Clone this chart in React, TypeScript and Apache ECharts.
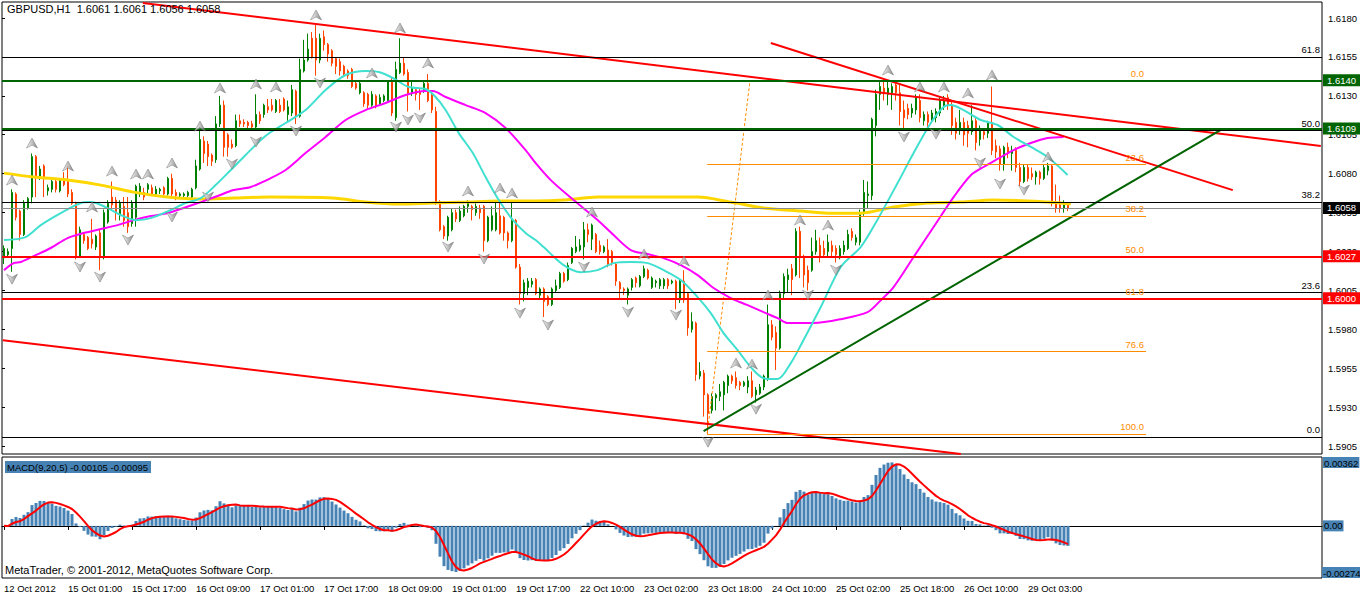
import { useEffect, useRef } from 'react';
import * as echarts from 'echarts';

const FONT = '"Liberation Sans", Arial, sans-serif';
const SLOTS = 330; // bar slots across the window (incl. right shift space)

const chartTitle = 'GBPUSD,H1  1.6061 1.6061 1.6056 1.6058';
const macdTitle = 'MACD(9,20,5) -0.00105 -0.00095';
const copyright = 'MetaTrader, \u00a9 2001-2012, MetaQuotes Software Corp.';

const tickEvery = 16;
const tickLabels = [
  '12 Oct 2012', '15 Oct 01:00', '15 Oct 17:00', '16 Oct 09:00', '17 Oct 01:00',
  '17 Oct 17:00', '18 Oct 09:00', '19 Oct 01:00', '19 Oct 17:00', '22 Oct 10:00',
  '23 Oct 02:00', '23 Oct 18:00', '24 Oct 10:00', '25 Oct 02:00', '25 Oct 18:00',
  '26 Oct 10:00', '29 Oct 03:00',
];

// [open, high, low, close]
const barsA = [
  [1.6026,1.6034,1.6022,1.6032],[1.6028,1.6032,1.6026,1.6030],[1.6032,1.6070,1.6017,1.6068],[1.6067,1.6068,1.6050,1.6052],
  [1.6056,1.6057,1.6037,1.6041],[1.6041,1.6063,1.6040,1.6061],[1.6058,1.6065,1.6057,1.6064],[1.6065,1.6093,1.6061,1.6091],
  [1.6091,1.6092,1.6065,1.6078],[1.6078,1.6085,1.6076,1.6083],[1.6085,1.6086,1.6065,1.6077],[1.6069,1.6073,1.6066,1.6071],
  [1.6070,1.6076,1.6068,1.6075],[1.6075,1.6076,1.6068,1.6070],[1.6069,1.6077,1.6068,1.6076],[1.6076,1.6081,1.6072,1.6073],
  [1.6075,1.6085,1.6065,1.6067],[1.6068,1.6070,1.6060,1.6061],[1.6061,1.6062,1.6025,1.6027],[1.6027,1.6046,1.6026,1.6044],
  [1.6041,1.6042,1.6035,1.6037],[1.6039,1.6040,1.6031,1.6032],[1.6038,1.6051,1.6032,1.6035],[1.6033,1.6041,1.6031,1.6040],
  [1.6042,1.6044,1.6018,1.6027],[1.6027,1.6057,1.6025,1.6055],[1.6049,1.6063,1.6048,1.6061],[1.6065,1.6075,1.6057,1.6060],
  [1.6063,1.6065,1.6050,1.6055],[1.6053,1.6063,1.6050,1.6061],[1.6059,1.6065,1.6046,1.6050],[1.6055,1.6065,1.6042,1.6046],
  [1.6048,1.6063,1.6046,1.6061],[1.6052,1.6073,1.6046,1.6072],[1.6067,1.6074,1.6065,1.6072],[1.6068,1.6071,1.6063,1.6065],
  [1.6070,1.6074,1.6067,1.6073],[1.6071,1.6073,1.6066,1.6067],[1.6067,1.6072,1.6066,1.6070],[1.6069,1.6071,1.6067,1.6070],
  [1.6071,1.6072,1.6066,1.6067],[1.6067,1.6078,1.6066,1.6077],[1.6077,1.6080,1.6065,1.6067],[1.6068,1.6070,1.6063,1.6066],
  [1.6066,1.6068,1.6064,1.6067],[1.6066,1.6068,1.6065,1.6067],[1.6066,1.6069,1.6065,1.6068],[1.6065,1.6071,1.6064,1.6070],
  [1.6071,1.6089,1.6070,1.6085],[1.6083,1.6110,1.6082,1.6102],[1.6101,1.6104,1.6087,1.6093],[1.6099,1.6101,1.6085,1.6091],
  [1.6092,1.6093,1.6085,1.6088],[1.6089,1.6117,1.6087,1.6112],[1.6112,1.6130,1.6110,1.6124],[1.6124,1.6127,1.6091,1.6097],
  [1.6105,1.6106,1.6091,1.6097],[1.6099,1.6102,1.6096,1.6097],[1.6098,1.6118,1.6097,1.6114],[1.6114,1.6118,1.6110,1.6112],
  [1.6113,1.6115,1.6110,1.6112],[1.6113,1.6114,1.6109,1.6111],[1.6112,1.6114,1.6109,1.6110],[1.6110,1.6131,1.6108,1.6118],
  [1.6118,1.6120,1.6112,1.6114],[1.6118,1.6125,1.6116,1.6124],[1.6123,1.6128,1.6119,1.6121],
];
const barsB = [
  [1.6124,1.6128,1.6120,1.6121],[1.6120,1.6128,1.6119,1.6127],[1.6124,1.6128,1.6119,1.6120],[1.6128,1.6129,1.6120,1.6121],
  [1.6118,1.6127,1.6114,1.6123],[1.6119,1.6137,1.6117,1.6134],[1.6133,1.6134,1.6112,1.6117],[1.6117,1.6154,1.6116,1.6147],
  [1.6146,1.6166,1.6145,1.6153],[1.6153,1.6170,1.6152,1.6160],[1.6167,1.6171,1.6154,1.6155],[1.6167,1.6176,1.6143,1.6153],
  [1.6153,1.6170,1.6151,1.6167],[1.6168,1.6172,1.6159,1.6163],[1.6163,1.6164,1.6152,1.6157],[1.6159,1.6160,1.6149,1.6151],
  [1.6154,1.6155,1.6144,1.6149],[1.6152,1.6154,1.6143,1.6146],[1.6149,1.6150,1.6142,1.6144],[1.6146,1.6147,1.6141,1.6143],
  [1.6147,1.6148,1.6135,1.6136],[1.6138,1.6140,1.6134,1.6135],[1.6132,1.6139,1.6131,1.6138],[1.6132,1.6133,1.6123,1.6125],
  [1.6131,1.6132,1.6122,1.6124],[1.6124,1.6133,1.6123,1.6131],[1.6130,1.6131,1.6122,1.6123],[1.6125,1.6131,1.6124,1.6129],
  [1.6127,1.6131,1.6126,1.6130],[1.6127,1.6140,1.6126,1.6139],[1.6139,1.6142,1.6117,1.6119],[1.6116,1.6152,1.6114,1.6147],
  [1.6145,1.6167,1.6144,1.6151],[1.6151,1.6155,1.6143,1.6144],[1.6145,1.6147,1.6120,1.6131],[1.6132,1.6140,1.6130,1.6135],
  [1.6134,1.6135,1.6127,1.6131],[1.6133,1.6135,1.6121,1.6131],[1.6133,1.6139,1.6132,1.6138],[1.6138,1.6144,1.6126,1.6127],
  [1.6131,1.6132,1.6119,1.6121],[1.6120,1.6123,1.6060,1.6061],[1.6062,1.6063,1.6043,1.6044],[1.6046,1.6047,1.6038,1.6040],
  [1.6040,1.6053,1.6037,1.6052],[1.6044,1.6058,1.6043,1.6055],[1.6055,1.6057,1.6049,1.6051],[1.6050,1.6059,1.6049,1.6056],
  [1.6053,1.6060,1.6052,1.6059],[1.6059,1.6063,1.6055,1.6061],[1.6059,1.6060,1.6050,1.6057],[1.6055,1.6061,1.6053,1.6059],
  [1.6058,1.6060,1.6051,1.6055],[1.6059,1.6060,1.6030,1.6037],[1.6037,1.6053,1.6036,1.6052],[1.6044,1.6059,1.6043,1.6053],
  [1.6044,1.6063,1.6043,1.6055],[1.6053,1.6062,1.6041,1.6042],[1.6052,1.6053,1.6037,1.6042],[1.6042,1.6043,1.6032,1.6037],
  [1.6037,1.6062,1.6036,1.6050],[1.6050,1.6051,1.6019,1.6020],[1.6020,1.6022,1.5996,1.6003],[1.6003,1.6012,1.5998,1.6010],
  [1.6007,1.6013,1.6002,1.6011],[1.6009,1.6013,1.6007,1.6011],
];
const barsC = [
  [1.6012,1.6013,1.6002,1.6003],[1.6002,1.6007,1.5999,1.6006],[1.6006,1.6007,1.5988,1.5998],[1.6001,1.6002,1.5995,1.5996],
  [1.5996,1.6007,1.5995,1.6006],[1.6005,1.6012,1.6004,1.6008],[1.6007,1.6017,1.6006,1.6016],[1.6016,1.6017,1.6010,1.6011],
  [1.6012,1.6023,1.6011,1.6021],[1.6023,1.6033,1.6022,1.6032],[1.6030,1.6040,1.6029,1.6033],[1.6031,1.6038,1.6030,1.6034],
  [1.6033,1.6049,1.6025,1.6044],[1.6044,1.6048,1.6036,1.6041],[1.6038,1.6048,1.6031,1.6047],[1.6041,1.6042,1.6029,1.6030],
  [1.6034,1.6037,1.6028,1.6030],[1.6030,1.6034,1.6029,1.6033],[1.6031,1.6038,1.6020,1.6022],[1.6030,1.6031,1.6021,1.6023],
  [1.6022,1.6023,1.6008,1.6011],[1.6010,1.6011,1.6000,1.6006],[1.6006,1.6007,1.6002,1.6005],[1.6002,1.6007,1.5996,1.6006],
  [1.6007,1.6013,1.6005,1.6012],[1.6013,1.6014,1.6007,1.6010],[1.6008,1.6015,1.6007,1.6014],[1.6014,1.6021,1.6013,1.6019],
  [1.6018,1.6019,1.6012,1.6013],[1.6007,1.6014,1.6006,1.6013],[1.6010,1.6012,1.6007,1.6011],[1.6008,1.6013,1.6006,1.6012],
  [1.6008,1.6013,1.6006,1.6012],[1.6012,1.6013,1.6006,1.6008],[1.6010,1.6012,1.6009,1.6011],[1.6011,1.6012,1.5993,1.6000],
  [1.5999,1.6012,1.5997,1.6011],[1.6011,1.6018,1.5997,1.5999],[1.6003,1.6004,1.5976,1.5981],[1.5980,1.5991,1.5978,1.5985],
  [1.5984,1.5985,1.5947,1.5951],[1.5950,1.5959,1.5948,1.5953],[1.5952,1.5954,1.5924,1.5938],[1.5938,1.5939,1.5913,1.5926],
  [1.5928,1.5939,1.5926,1.5937],[1.5936,1.5939,1.5928,1.5938],[1.5937,1.5945,1.5934,1.5940],[1.5938,1.5947,1.5928,1.5946],
  [1.5944,1.5951,1.5939,1.5950],[1.5950,1.5951,1.5945,1.5947],[1.5949,1.5953,1.5942,1.5944],[1.5946,1.5947,1.5941,1.5944],
  [1.5944,1.5947,1.5943,1.5946],[1.5943,1.5950,1.5939,1.5947],[1.5947,1.5953,1.5936,1.5937],[1.5938,1.5943,1.5933,1.5941],
  [1.5939,1.5945,1.5938,1.5943],[1.5943,1.5951,1.5941,1.5950],[1.5949,1.5996,1.5947,1.5983],[1.5983,1.5986,1.5973,1.5975],
  [1.5978,1.5982,1.5954,1.5968],[1.5968,1.6005,1.5967,1.6003],[1.6003,1.6016,1.6000,1.6014],[1.6012,1.6019,1.6004,1.6015],
  [1.6019,1.6022,1.6002,1.6012],[1.6015,1.6045,1.6014,1.6043],[1.6043,1.6046,1.6013,1.6026],
];
const barsD = [
  [1.6027,1.6028,1.6007,1.6015],[1.6018,1.6021,1.6005,1.6010],[1.6018,1.6039,1.6017,1.6030],[1.6030,1.6044,1.6028,1.6037],
  [1.6034,1.6039,1.6023,1.6027],[1.6032,1.6037,1.6026,1.6028],[1.6030,1.6041,1.6026,1.6036],[1.6034,1.6037,1.6026,1.6030],
  [1.6032,1.6034,1.6023,1.6028],[1.6026,1.6034,1.6025,1.6032],[1.6030,1.6037,1.6028,1.6034],[1.6032,1.6044,1.6031,1.6041],
  [1.6043,1.6045,1.6037,1.6039],[1.6036,1.6041,1.6034,1.6039],[1.6036,1.6057,1.6034,1.6055],[1.6055,1.6076,1.6053,1.6068],
  [1.6066,1.6075,1.6058,1.6067],[1.6066,1.6116,1.6063,1.6115],[1.6111,1.6134,1.6104,1.6131],[1.6131,1.6139,1.6121,1.6136],
  [1.6135,1.6139,1.6127,1.6132],[1.6131,1.6140,1.6124,1.6135],[1.6132,1.6138,1.6121,1.6136],[1.6137,1.6138,1.6127,1.6132],
  [1.6132,1.6137,1.6111,1.6120],[1.6121,1.6127,1.6109,1.6116],[1.6122,1.6125,1.6115,1.6118],[1.6119,1.6125,1.6116,1.6122],
  [1.6121,1.6131,1.6118,1.6129],[1.6127,1.6131,1.6113,1.6116],[1.6114,1.6120,1.6111,1.6118],[1.6118,1.6120,1.6110,1.6113],
  [1.6114,1.6121,1.6113,1.6119],[1.6116,1.6122,1.6113,1.6120],[1.6119,1.6129,1.6117,1.6127],[1.6123,1.6130,1.6121,1.6127],
  [1.6129,1.6131,1.6121,1.6124],[1.6124,1.6126,1.6105,1.6111],[1.6113,1.6116,1.6102,1.6106],[1.6109,1.6121,1.6105,1.6113],
  [1.6113,1.6116,1.6098,1.6105],[1.6111,1.6114,1.6097,1.6106],[1.6107,1.6124,1.6105,1.6114],[1.6114,1.6116,1.6095,1.6100],
  [1.6102,1.6111,1.6098,1.6109],[1.6107,1.6109,1.6102,1.6105],[1.6106,1.6114,1.6103,1.6113],[1.6113,1.6136,1.6092,1.6095],
  [1.6098,1.6102,1.6090,1.6094],[1.6096,1.6098,1.6082,1.6086],[1.6086,1.6098,1.6082,1.6097],[1.6097,1.6100,1.6090,1.6093],
  [1.6093,1.6098,1.6082,1.6095],[1.6095,1.6097,1.6081,1.6084],[1.6084,1.6087,1.6072,1.6075],[1.6075,1.6086,1.6074,1.6084],
  [1.6084,1.6086,1.6075,1.6077],[1.6080,1.6084,1.6076,1.6078],[1.6078,1.6082,1.6073,1.6081],[1.6081,1.6082,1.6073,1.6077],
  [1.6077,1.6086,1.6076,1.6084],[1.6082,1.6087,1.6079,1.6085],[1.6085,1.6086,1.6059,1.6061],[1.6061,1.6073,1.6055,1.6058],
  [1.6060,1.6066,1.6055,1.6058],[1.6058,1.6063,1.6055,1.6060],[1.6061,1.6061,1.6056,1.6058],
];

// moving averages: [bar index, price]
const cyanMA = [
  [0,1.60374],[5.4,1.60393],[9.2,1.6047],[14.2,1.60547],[19.2,1.60612],[21.7,1.60618],[25.4,1.60586],[29.2,1.60535],
  [32.9,1.60502],[36.7,1.60515],[41.7,1.60567],[45.4,1.60612],[49.2,1.60644],[52.9,1.60727],[56.7,1.60824],[60.4,1.6092],
  [64.2,1.61017],[66.7,1.61068],[70.4,1.61126],[75.4,1.61209],[80.4,1.61338],[85.4,1.61434],[90.4,1.6146],[93.7,1.61453],
  [97.2,1.61415],[101.2,1.61357],[105.4,1.61344],[107.9,1.61293],[110.4,1.61209],[113.7,1.61061],[117.2,1.60933],
  [120.4,1.60779],[123.7,1.60631],[127.2,1.60503],[130.4,1.60419],[132.9,1.60374],[134.9,1.60329],[139.9,1.60213],
  [144.2,1.60168],[148.4,1.60181],[152.4,1.60226],[156.7,1.60233],[160.9,1.60226],[164.9,1.60181],[169.2,1.60117],
  [173.4,1.60008],[176.7,1.59905],[179.9,1.59776],[183.4,1.59667],[186.7,1.59558],[189.9,1.59487],[193.4,1.59481],
  [196.7,1.59584],[199.2,1.59699],[204.2,1.59944],[209.2,1.60201],[214.2,1.6033],[218.3,1.60502],[223.4,1.6074],
  [227.4,1.60933],[231.7,1.61126],[234.9,1.61229],[236.7,1.61241],[239.9,1.61209],[244.2,1.61145],[248.4,1.61113],
  [252.4,1.61036],[256.7,1.60972],[260.9,1.60907],[265.9,1.60792],
];
const magentaMA = [
  [0,1.60181],[2.4,1.60226],[4.2,1.60233],[7.4,1.60271],[11.7,1.60323],[15.9,1.60387],[19.9,1.60419],[24.2,1.60445],
  [28.4,1.6047],[32.4,1.60502],[36.7,1.60528],[40.9,1.60547],[44.9,1.6058],[49.2,1.60618],[53.4,1.60657],[57.4,1.60695],
  [61.7,1.60715],[66.7,1.60772],[70.4,1.60824],[75.4,1.60933],[80.4,1.61036],[85.4,1.61145],[90.4,1.61209],[95.4,1.61254],
  [100.4,1.61306],[105.4,1.61331],[107.2,1.61331],[110.4,1.61293],[115.4,1.61241],[120.4,1.6119],[125.4,1.61094],
  [130.4,1.60952],[132.9,1.60869],[136.7,1.60759],[142.4,1.60631],[148.4,1.60503],[152.4,1.60406],[156.7,1.6031],
  [160.9,1.60284],[164.9,1.60258],[169.2,1.60213],[173.4,1.60149],[177.4,1.60066],[181.7,1.60001],[185.9,1.59956],
  [189.9,1.59911],[193.4,1.59873],[195.9,1.59841],[202.4,1.59841],[209.2,1.59866],[215.9,1.59911],[219.2,1.59988],
  [222.4,1.60072],[227.4,1.60265],[232.4,1.60458],[237.4,1.6065],[241.7,1.6079],[245,1.60845],[248.4,1.60895],
  [252.4,1.60952],[256.7,1.60997],[260.9,1.61029],[264.9,1.61036],
];
const goldMA = [
  [0,1.60804],[7.4,1.60779],[15.9,1.6076],[24.2,1.60727],[32.4,1.60682],[40.9,1.6065],[49.2,1.60637],[57.4,1.60644],
  [66.7,1.6065],[82.2,1.60644],[90.4,1.60618],[98.7,1.60605],[107.2,1.60612],[115.4,1.60618],[123.7,1.60625],
  [132.9,1.60625],[139.9,1.60631],[148.4,1.6065],[156.7,1.6065],[164.9,1.6065],[173.4,1.6065],[181.7,1.60618],
  [189.9,1.6058],[199.2,1.6056],[205.9,1.60547],[214.2,1.60547],[222.4,1.60586],[230.9,1.60612],[239.2,1.60618],
  [247.4,1.60631],[255.9,1.60625],[264.2,1.60612],[266.7,1.60605],
];

// Bill Williams fractal arrows: [bar index, price]
const fractalUp = [
  [2,1.60759],[7,1.60997],[16,1.60849],[22,1.60586],[27,1.60817],[33,1.60798],[36,1.60798],[42,1.60869],[49,1.61106],
  [54,1.61351],[63,1.61376],[68,1.61357],[78,1.6182],[92,1.61447],[99,1.61736],[106,1.61511],[116,1.60689],[124,1.60708],
  [127,1.60676],[147,1.60554],[160,1.60284],[170,1.60239],[183,1.59584],[187,1.59577],[191,1.60021],[199,1.60503],
  [206,1.6047],[221,1.61466],[229,1.61357],[235,1.61357],[241,1.61319],[247,1.61434],[261,1.60907],
];
const fractalDown = [
  [2,1.60123],[19,1.60201],[24,1.60136],[31,1.60374],[42,1.60522],[51,1.6065],[57,1.60862],[63,1.61004],[73,1.61074],
  [79,1.61383],[98,1.611],[101,1.61145],[104,1.61158],[111,1.60329],[120,1.60252],[129,1.59905],[136,1.59828],
  [145,1.60201],[156,1.59911],[168,1.59892],[176,1.59076],[188,1.59288],[201,1.60021],[208,1.60181],[225,1.61036],
  [233,1.61055],[244,1.60869],[249,1.60734],[255,1.60695],
];

const greenLevels = [1.614, 1.6109];
const redLevels = [1.6027, 1.6];
const lastPrice = 1.6058;
const blackFib = [
  { name: '0.0', price: 1.5911 }, { name: '23.6', price: 1.6004 }, { name: '38.2', price: 1.6062 },
  { name: '50.0', price: 1.6108 }, { name: '61.8', price: 1.6155 },
];
const orangeFib = [
  { name: '0.0', price: 1.614 }, { name: '23.6', price: 1.6086 }, { name: '38.2', price: 1.6053 },
  { name: '50.0', price: 1.6027 }, { name: '61.8', price: 1.6 }, { name: '76.6', price: 1.5966 },
  { name: '100.0', price: 1.5913 },
];
const orangeFibSpan = [175.8, 285.5];
const orangeFibDiagonal = [[175.8, 1.5913], [186.5, 1.614]];
const redTrendLines = [
  [[34.7, 1.61897], [329.2, 1.60978]],
  [[191.7, 1.6164], [307.2, 1.60695]],
  [[-0.3, 1.59731], [239.2, 1.59]],
];
const greenTrendLine = [[174.9, 1.59147], [304.2, 1.61081]];

const priceView = { min: 1.59, max: 1.61903 };
const priceTicks = { min: 1.5905, max: 1.618, step: 0.0025 };
const macdView = { min: -0.00274, max: 0.00362 };
const macdParams = { fast: 9, slow: 20, signal: 5 };

const GREEN = '#006400';
const BULL = '#008000';
const BEAR = '#ff4500';
const RED = '#ff0000';
const ORANGE = '#ff8c00';
const STEEL = '#4682b4';

function buildOption() {
  const bars = [...barsA, ...barsB, ...barsC, ...barsD];
  const cats = Array.from({ length: SLOTS }, (_, i) => String(i));
  const candles = bars.map((b) => [b[0], b[3], b[2], b[1]]);
  const closes = bars.map((b) => b[3]);
  const kf = 2 / (macdParams.fast + 1);
  const ks = 2 / (macdParams.slow + 1);
  let ef = closes[0];
  let es = closes[0];
  const macd = closes.map((c) => {
    ef += (c - ef) * kf;
    es += (c - es) * ks;
    return ef - es;
  });
  const signal = macd.map((_, i) => {
    const s = macd.slice(Math.max(0, i - macdParams.signal + 1), i + 1);
    return s.reduce((a, b) => a + b, 0) / s.length;
  });

  const fullSpan = [-0.5, SLOTS - 0.5];
  const hLine = (price: number, extra: any) => [
    { coord: [fullSpan[0], price], ...extra },
    { coord: [fullSpan[1], price] },
  ];

  const tickShown = (index: number) => index % tickEvery === 0 && index < bars.length;
  const txt = { fontFamily: FONT, fontSize: 9.5 };
  const bigTxt = { fontFamily: FONT, fontSize: 11 };
  const frUp = 'path://M5,0 L10,10 L5,7 L0,10 Z';
  const frDown = 'path://M0,0 L5,3 L10,0 L5,10 Z';
  const frColor = {
    type: 'linear', x: 0, y: 0, x2: 1, y2: 0,
    colorStops: [
      { offset: 0, color: '#f4f4f4' },
      { offset: 0.5, color: '#b4b4b4' },
      { offset: 1, color: '#6a6a6a' },
    ],
  };
  const boxLabel = (text: string, bg: string, fg: string) => ({
    show: true, position: 'end', distance: 1, formatter: text, backgroundColor: bg, color: fg,
    padding: [1, 4, 1, 4], ...txt,
  });

  return {
    animation: false,
    backgroundColor: '#ffffff',
    title: [
      { text: chartTitle, left: 7, top: 3, padding: 0, textStyle: { ...bigTxt, fontWeight: 'normal', color: '#000' } },
      {
        text: macdTitle, left: 5, top: 461, padding: [1, 3, 1, 2], backgroundColor: STEEL,
        textStyle: { ...txt, fontWeight: 'normal', color: '#000' },
      },
      { text: copyright, left: 5, top: 564, padding: 0, textStyle: { ...bigTxt, fontWeight: 'normal', color: '#000' } },
    ],
    grid: [
      { left: 2, top: 2, width: 1320, height: 452, show: true, borderColor: '#000', borderWidth: 1, backgroundColor: '#fff' },
      { left: 2, top: 457, width: 1320, height: 121, show: true, borderColor: '#000', borderWidth: 1, backgroundColor: '#fff' },
      { left: 2, top: 18, width: 1320, height: 428, show: false },
    ],
    xAxis: [
      { type: 'category', gridIndex: 0, data: cats, boundaryGap: true, show: false },
      { type: 'value', gridIndex: 0, min: -0.5, max: SLOTS - 0.5, show: false },
      {
        type: 'category', gridIndex: 1, data: cats, boundaryGap: true,
        axisLine: { show: true, lineStyle: { color: '#000' } },
        axisTick: { show: true, alignWithLabel: true, interval: tickShown, length: 4, lineStyle: { color: '#000' } },
        axisLabel: {
          show: true, interval: tickShown, align: 'left', margin: 5, color: '#000', ...txt,
          formatter: (v: string) => tickLabels[Number(v) / tickEvery] ?? '',
        },
        splitLine: { show: false },
      },
      { type: 'value', gridIndex: 2, min: 0, max: 1, show: false },
    ],
    yAxis: [
      { type: 'value', gridIndex: 0, min: priceView.min, max: priceView.max, show: false, splitLine: { show: false } },
      { type: 'value', gridIndex: 1, min: macdView.min, max: macdView.max, show: false, splitLine: { show: false } },
      {
        type: 'value', gridIndex: 2, position: 'right', min: priceTicks.min, max: priceTicks.max, interval: priceTicks.step,
        axisLine: { show: false },
        axisTick: { show: true, length: 3, lineStyle: { color: '#000' } },
        axisLabel: { show: true, margin: 6, color: '#000', ...txt, formatter: (v: number) => v.toFixed(4) },
        splitLine: { show: false },
      },
    ],
    series: [
      {
        type: 'line', xAxisIndex: 3, yAxisIndex: 2, data: [], silent: true,
      },
      {
        name: 'fibOrange', type: 'line', xAxisIndex: 1, yAxisIndex: 0, data: [[-5, 1.6]], showSymbol: false, z: 3,
        lineStyle: { width: 0 },
        markLine: {
          silent: true, symbol: 'none', animation: false, precision: 6,
          lineStyle: { color: ORANGE, width: 1, type: 'solid' },
          label: { show: true, position: 'insideEndTop', formatter: '{b}', color: ORANGE, distance: 2, ...txt },
          data: orangeFib.map((f) => [
            { name: f.name, coord: [orangeFibSpan[0], f.price] },
            { coord: [orangeFibSpan[1], f.price] },
          ]),
        },
      },
      {
        name: 'fibDiag', type: 'line', xAxisIndex: 1, yAxisIndex: 0, data: orangeFibDiagonal, showSymbol: false, z: 3,
        lineStyle: { color: ORANGE, width: 1, type: [3, 2] },
      },
      {
        name: 'fibBlack', type: 'line', xAxisIndex: 1, yAxisIndex: 0, data: [[-5, 1.6]], showSymbol: false, z: 3,
        lineStyle: { width: 0 },
        markLine: {
          silent: true, symbol: 'none', animation: false, precision: 6,
          lineStyle: { color: '#000', width: 1, type: 'solid' },
          label: { show: true, position: 'insideEndTop', formatter: '{b}', color: '#000', distance: 2, ...txt },
          data: blackFib.map((f) => hLine(f.price, { name: f.name })),
        },
      },
      {
        name: 'price', type: 'candlestick', xAxisIndex: 0, yAxisIndex: 0, data: candles, barWidth: 2, z: 2,
        itemStyle: { color: BULL, color0: BEAR, borderColor: BULL, borderColor0: BEAR, borderWidth: 1 },
      },
      {
        name: 'MA gold', type: 'line', xAxisIndex: 1, yAxisIndex: 0, data: goldMA, showSymbol: false, smooth: 0.3, z: 3,
        lineStyle: { color: '#ffd700', width: 3 },
      },
      {
        name: 'MA magenta', type: 'line', xAxisIndex: 1, yAxisIndex: 0, data: magentaMA, showSymbol: false, smooth: 0.3, z: 3,
        lineStyle: { color: '#ff00ff', width: 2 },
      },
      {
        name: 'MA cyan', type: 'line', xAxisIndex: 1, yAxisIndex: 0, data: cyanMA, showSymbol: false, smooth: 0.3, z: 3,
        lineStyle: { color: '#40e0d0', width: 2 },
      },
      {
        name: 'levels', type: 'line', xAxisIndex: 1, yAxisIndex: 0, data: [[-5, 1.6]], showSymbol: false, z: 4,
        lineStyle: { width: 0 },
        markLine: {
          silent: true, symbol: 'none', animation: false, precision: 6,
          data: [
            ...greenLevels.map((p) => hLine(p, {
              lineStyle: { color: GREEN, width: 2, type: 'solid' }, label: boxLabel(p.toFixed(4), GREEN, '#fff'),
            })),
            ...redLevels.map((p) => hLine(p, {
              lineStyle: { color: RED, width: 2, type: 'solid' }, label: boxLabel(p.toFixed(4), RED, '#fff'),
            })),
            hLine(lastPrice, {
              lineStyle: { color: '#8c8c8c', width: 1, type: 'solid' },
              label: boxLabel(lastPrice.toFixed(4), '#000', '#fff'),
            }),
          ],
        },
      },
      ...redTrendLines.map((seg) => ({
        type: 'line', xAxisIndex: 1, yAxisIndex: 0, data: seg, showSymbol: false, z: 4,
        lineStyle: { color: RED, width: 2 },
      })),
      {
        type: 'line', xAxisIndex: 1, yAxisIndex: 0, data: greenTrendLine, showSymbol: false, z: 4,
        lineStyle: { color: GREEN, width: 2 },
      },
      {
        name: 'fractal up', type: 'scatter', xAxisIndex: 1, yAxisIndex: 0, data: fractalUp, symbol: frUp,
        symbolSize: [11, 10], z: 5, itemStyle: { color: frColor, borderColor: '#6e6e6e', borderWidth: 0.6 },
      },
      {
        name: 'fractal down', type: 'scatter', xAxisIndex: 1, yAxisIndex: 0, data: fractalDown, symbol: frDown,
        symbolSize: [11, 10], z: 5, itemStyle: { color: frColor, borderColor: '#6e6e6e', borderWidth: 0.6 },
      },
      {
        name: 'MACD', type: 'bar', xAxisIndex: 2, yAxisIndex: 1, data: macd, barWidth: 3, z: 2,
        itemStyle: { color: STEEL },
      },
      {
        name: 'Signal', type: 'line', xAxisIndex: 2, yAxisIndex: 1, data: signal, showSymbol: false, z: 3,
        lineStyle: { color: RED, width: 2 },
        markLine: {
          silent: true, symbol: 'none', animation: false, precision: 6,
          lineStyle: { color: 'rgba(0,0,0,0)', width: 0 },
          data: [
            { yAxis: macdView.max, label: { ...boxLabel(macdView.max.toFixed(5), STEEL, '#000'), padding: [1, 1, 0, 1], verticalAlign: 'top' } },
            { yAxis: 0, label: { ...boxLabel('0.00', STEEL, '#000'), padding: [1, 1, 0, 1] } },
            {
              yAxis: macdView.min,
              label: { ...boxLabel(macdView.min.toFixed(5), STEEL, '#000'), padding: [1, 0, 0, 1], distance: 0, verticalAlign: 'bottom' },
            },
          ],
        },
      },
    ],
  };
}

export default function App() {
  const ref = useRef<HTMLDivElement>(null);
  useEffect(() => {
    document.body.style.margin = '0';
    const chart = echarts.init(ref.current as HTMLDivElement, undefined, { renderer: 'svg' });
    chart.setOption(buildOption() as any);
    return () => chart.dispose();
  }, []);
  return (
    <div
      ref={ref}
      style={{ position: 'absolute', left: 0, top: 0, width: 1360, height: 596, background: '#fff' }}
    />
  );
}
